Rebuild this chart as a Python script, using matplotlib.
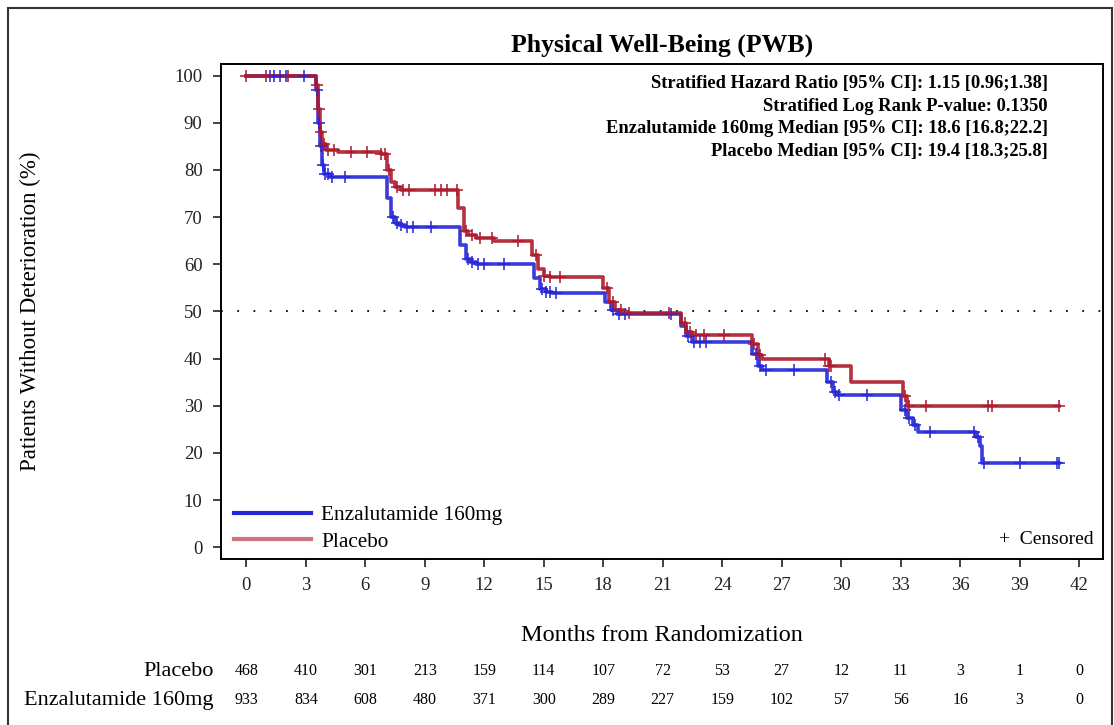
import matplotlib
matplotlib.use("Agg")
import matplotlib.pyplot as plt
import matplotlib.transforms as mtransforms
from matplotlib.patches import Rectangle
from matplotlib.lines import Line2D
import numpy as np

plt.rcParams["font.family"] = ["Liberation Serif", "DejaVu Serif"]

# Kaplan-Meier steps (months, % without deterioration)
enza_t = [0, 3.5, 3.6, 3.7, 3.8, 3.9, 4.2, 7.1, 7.3, 7.5, 7.7, 8.0, 10.8, 11.1, 11.3, 11.6, 14.5, 14.8, 15.1, 15.4,
          18.1, 18.4, 18.7, 21.9, 22.2, 22.5, 25.5, 25.8, 26.0, 29.3, 29.6, 29.8, 33.0, 33.3, 33.6, 33.9, 36.8, 37.0, 37.1, 41.0]
enza_s = [100, 97, 90, 85, 81, 79.2, 78.5, 74, 70, 68.8, 68.4, 68.0, 64, 61.2, 60.5, 60.0, 57, 54.8, 54.2, 53.9,
          52, 50.2, 49.4, 47, 44.8, 43.6, 41, 38.5, 37.5, 35, 33, 32.3, 29, 27.4, 25.9, 24.5, 23.4, 21.4, 17.8, 17.8]

plac_t = [0, 3.5, 3.6, 3.7, 3.8, 4.0, 4.6, 6.8, 7.1, 7.3, 7.5, 7.8, 10.7, 11.0, 11.2, 11.6, 12.5, 14.4, 14.7, 15.0,
          15.3, 18.0, 18.3, 18.6, 19.0, 21.9, 22.2, 22.5, 25.5, 25.8, 26.0, 29.4, 30.5, 33.1, 33.3, 41.0]
plac_s = [100, 98, 93, 88, 85.5, 84.3, 83.9, 83.3, 80, 77.5, 76.4, 75.8, 72, 67, 66.2, 65.5, 65.0, 62, 59, 57.6,
          57.2, 55, 52, 50.2, 49.7, 47.5, 45.6, 45.0, 43, 40.8, 39.9, 38.4, 35.0, 32, 29.9, 29.9]

# censored observations (months)
enza_cens = [1.2, 1.4, 1.7, 2.0, 2.9, 3.55, 3.65, 3.75, 3.85, 3.95, 4.1, 4.3, 5.0, 7.4, 7.6, 7.8, 8.1, 8.4, 9.3,
             11.2, 11.4, 11.7, 12.0, 13.0, 14.9, 15.1, 15.3, 15.6, 18.5, 18.8, 19.1, 21.4, 22.3, 22.6, 22.9, 23.2,
             25.7, 25.9, 26.2, 27.6, 29.5, 29.7, 29.9, 31.3, 33.2, 33.4, 33.7, 34.5, 36.7, 36.9, 37.2, 39.0, 40.9, 41.0]
plac_cens = [0.0, 1.0, 2.1, 3.55, 3.65, 3.75, 3.9, 4.1, 4.4, 5.3, 6.1, 6.8, 7.0, 7.2, 7.6, 7.9, 8.2, 9.5, 9.8,
             10.1, 10.6, 11.1, 11.4, 11.8, 12.4, 13.7, 14.6, 15.0, 15.3, 15.8, 18.2, 18.5, 18.9, 19.3, 21.3, 22.1,
             22.4, 22.7, 23.1, 24.1, 25.6, 25.9, 29.2, 29.4, 29.5, 33.2, 33.4, 34.3, 37.4, 37.6, 41.0]

months = [0, 3, 6, 9, 12, 15, 18, 21, 24, 27, 30, 33, 36, 39, 42]
risk_plac = [468, 410, 301, 213, 159, 114, 107, 72, 53, 27, 12, 11, 3, 1, 0]
risk_enza = [933, 834, 608, 480, 371, 300, 289, 227, 159, 102, 57, 56, 16, 3, 0]

stats_lines = [
    "Stratified Hazard Ratio [95% CI]: 1.15 [0.96;1.38]",
    "Stratified Log Rank P-value: 0.1350",
    "Enzalutamide 160mg Median [95% CI]: 18.6 [16.8;22.2]",
    "Placebo Median [95% CI]: 19.4 [18.3;25.8]",
]

blue = "#2626d9"
red = "#ad1a2c"

fig = plt.figure(figsize=(11.14, 7.25), dpi=100)
ax = fig.add_axes([0.198, 0.229, 0.792, 0.683])

def surv_at(t, times, surv):
    idx = np.searchsorted(times, t, side="right") - 1
    return np.asarray(surv)[idx]

ax.axhline(50, color="black", lw=1.3, ls=(0, (1, 8)), zorder=1)

for times, surv, cens, col in [(enza_t, enza_s, enza_cens, blue), (plac_t, plac_s, plac_cens, red)]:
    ax.plot(times, surv, drawstyle="steps-post", color=col, lw=2.6, alpha=0.9, zorder=2)
    ax.plot(cens, surv_at(cens, times, surv), ls="none", marker="+", ms=9, mew=1.4,
            color=col, alpha=0.8, zorder=3)

ax.set_xlim(-1.3, 43.2)
ax.set_ylim(-2.5, 102.5)
ax.set_xticks(months)
ax.set_yticks(range(0, 101, 10))
ax.tick_params(direction="out", length=6, width=1.2, labelsize=13.5, pad=7, colors="#222222")
for sp in ax.spines.values():
    sp.set_linewidth(1.4)

ax.set_xlabel("Months from Randomization", fontsize=17.5, labelpad=22)
ax.set_ylabel("Patients Without Deterioration (%)", fontsize=16.5)
ax.yaxis.set_label_coords(-0.203, 0.5)
ax.set_title("Physical Well-Being (PWB)", fontsize=18.5, fontweight="bold", pad=9)

for i, line in enumerate(stats_lines):
    ax.text(0.9376, 0.9596 - i * 0.0455, line, transform=ax.transAxes, ha="right", va="center",
            fontsize=13.3, fontweight="bold")

handles = [Line2D([], [], color=blue, lw=3),
           Line2D([], [], color=red, lw=3, alpha=0.6)]
ax.legend(handles, ["Enzalutamide 160mg", "Placebo"], loc="lower left", frameon=False,
          fontsize=15.3, handlelength=3.6, handletextpad=0.5, labelspacing=0.3,
          borderaxespad=0.0, borderpad=0.35, bbox_to_anchor=(0.007, 0.0))
ax.text(0.99, 0.04, "+  Censored", transform=ax.transAxes, ha="right", va="center", fontsize=14)

# numbers at risk
trans = mtransforms.blended_transform_factory(ax.transData, fig.transFigure)
for label, vals, yf in [("Placebo", risk_plac, 0.074), ("Enzalutamide 160mg", risk_enza, 0.034)]:
    fig.text(0.192, yf, label, ha="right", va="center", fontsize=16)
    for m, v in zip(months, vals):
        ax.text(m, yf, str(v), transform=trans, ha="center", va="center", fontsize=11.5)

fig.patches.append(Rectangle((0.007, -0.05), 0.991, 1.039, transform=fig.transFigure,
                             fill=False, lw=1.5, edgecolor="#333333"))

fig.savefig("out.png", dpi=100)
